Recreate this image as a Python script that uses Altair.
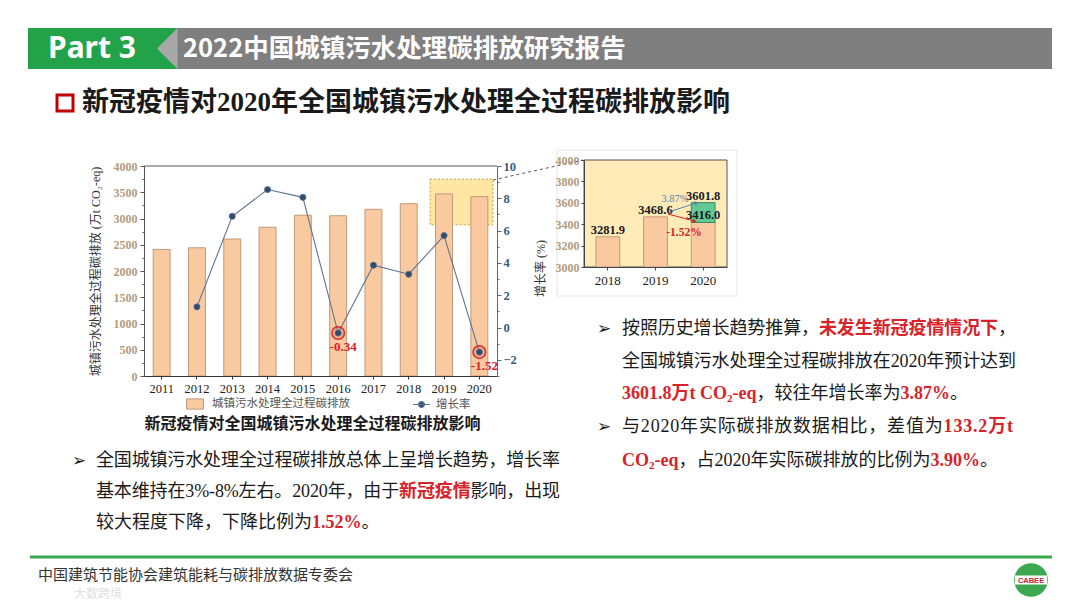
import math
import altair as alt
import pandas as pd

# ------------------------------------------------------------------ data
years = ["2011", "2012", "2013", "2014", "2015", "2016", "2017", "2018", "2019", "2020"]
emissions = [2411, 2442, 2610, 2833, 3063, 3053, 3175, 3281.9, 3468.6, 3416.0]
growth = [None, 1.28, 6.89, 8.54, 8.06, -0.34, 3.86, 3.30, 5.69, -1.52]
flag_years = ["2016", "2020"]
flag_labels = ["-0.34", "-1.52"]

inset_years = ["2018", "2019", "2020"]
inset_actual = [3281.9, 3468.6, 3416.0]
projected_year = "2020"
projected_value = 3601.8
projected_rate = "3.87%"
actual_rate = "-1.52%"

left_ticks = [0, 500, 1000, 1500, 2000, 2500, 3000, 3500, 4000]
left_minor = list(range(0, 4001, 250))
right_ticks = [-2, 0, 2, 4, 6, 8, 10]
right_minor = list(range(-3, 11))
inset_ticks = [3000, 3200, 3400, 3600, 3800, 4000]
zoom_band = [2880, 3750]

bar_series = "城镇污水处理全过程碳排放"
line_series = "增长率"

# ------------------------------------------------------------------ styling
W, H = 1064, 592


def P(v):
    return v - 8


SERIF = "Liberation Serif"
CJK = "Noto Sans CJK SC"
MIX = "Liberation Serif, Noto Sans CJK SC"
BLACK = "#1a1a1a"
RED = "#d9232a"
TAN = "#b39c7d"
BLUE_LBL = "#3b5b7e"
BAR_FILL = "#f9c9a0"
BAR_STROKE = "#c29a78"
LINE_C = "#5e7494"
DOT_C = "#2f4b6e"
GREEN_BAR = "#62c896"

one = pd.DataFrame({"k": [0]})


def rect(x0, x1, y0, y1, **kw):
    return alt.Chart(one).mark_rect(**kw).encode(
        x=alt.value(P(x0)), x2=alt.value(P(x1)), y=alt.value(P(y0)), y2=alt.value(P(y1)))


def rule(x0, y0, x1, y1, **kw):
    return alt.Chart(one).mark_rule(**kw).encode(
        x=alt.value(P(x0)), y=alt.value(P(y0)), x2=alt.value(P(x1)), y2=alt.value(P(y1)))


def label(s, x, y, **kw):
    return alt.Chart(one).mark_text(text=s, **kw).encode(x=alt.value(P(x)), y=alt.value(P(y)))


def glyph_at(x, y, size, **kw):
    return alt.Chart(one).mark_point(**kw).encode(
        x=alt.value(P(x)), y=alt.value(P(y)), size=alt.value(size))


# ------------------------------------------------------------------ rich text (per glyph)
NW = {".": .25, "%": .833, "-": .333, " ": .25, "t": .278, "C": .667, "O": .722, "e": .444, "q": .5}
BW = {".": .25, "%": 1.0, "-": .333, " ": .25, "t": .333, "C": .722, "O": .778, "e": .444, "q": .556}


def adv(ch, bold):
    if ord(ch) >= 0x2E80:
        return 1.0
    return (BW if bold else NW).get(ch, 0.5)


glyph_rows = []


def text_line(runs, x0, y, size, x1=None):
    gl = []
    for txt, color, bold in runs:
        for ch in txt:
            if ch == "₂":
                gl.append(dict(ch="2", size=size * 0.62, dy=size * 0.25, w=0.5 * 0.62 * size,
                               color=color, bold=bold, fam="latin"))
            else:
                fam = "cjk" if ord(ch) >= 0x2E80 else "latin"
                gl.append(dict(ch=ch, size=size, dy=0, w=adv(ch, bold) * size,
                               color=color, bold=bold, fam=fam))
    total = sum(g["w"] for g in gl)
    gap = 0 if (x1 is None or len(gl) < 2) else (x1 - x0 - total) / (len(gl) - 1)
    x = x0
    for g in gl:
        glyph_rows.append(dict(ch=g["ch"], px=P(x), py=P(y + g["dy"]), size=g["size"],
                               color=g["color"], bold=g["bold"], fam=g["fam"]))
        x += g["w"] + gap


# heading
text_line([("新冠疫情对", BLACK, True), ("2020", BLACK, True),
           ("年全国城镇污水处理全过程碳排放影响", BLACK, True)], 82, 103, 27)
# left block
text_line([("全国城镇污水处理全过程碳排放总体上呈增长趋势，增长率", BLACK, False)], 96, 461, 18, 560)
text_line([("基本维持在3%-8%左右。2020年，由于", BLACK, False), ("新冠疫情", RED, True),
           ("影响，出现", BLACK, False)], 96, 492, 18, 560)
text_line([("较大程度下降，下降比例为", BLACK, False), ("1.52%", RED, True), ("。", BLACK, False)],
          96, 523, 18)
# right block
text_line([("按照历史增长趋势推算，", BLACK, False), ("未发生新冠疫情情况下", RED, True),
           ("，", BLACK, False)], 622, 329, 18, 1016)
text_line([("全国城镇污水处理全过程碳排放在2020年预计达到", BLACK, False)], 622, 362, 18, 1016)
text_line([("3601.8万t CO₂-eq", RED, True), ("，较往年增长率为", BLACK, False),
           ("3.87%", RED, True), ("。", BLACK, False)], 622, 394, 18)
text_line([("与2020年实际碳排放数据相比，差值为", BLACK, False), ("133.2万t", RED, True)],
          622, 427, 18, 1013)
text_line([("CO₂-eq", RED, True), ("，占2020年实际碳排放的比例为", BLACK, False),
           ("3.90%", RED, True), ("。", BLACK, False)], 622, 461, 18)
for ax, ay in [(72, 461), (597, 329), (597, 427)]:
    glyph_rows.append(dict(ch="➢", px=P(ax), py=P(ay), size=17, color=BLACK, bold=False, fam="sym"))

glyphs = pd.DataFrame(glyph_rows)
glyph_layers = []
for fam, font in [("cjk", CJK), ("latin", SERIF), ("sym", "DejaVu Sans")]:
    for bold in [False, True]:
        sub = glyphs[(glyphs.fam == fam) & (glyphs.bold == bold)]
        if sub.empty:
            continue
        glyph_layers.append(
            alt.Chart(sub[["ch", "px", "py", "size", "color"]]).mark_text(
                align="left", baseline="middle", font=font,
                fontWeight="bold" if bold else "normal").encode(
                x=alt.X("px:Q", scale=None, axis=None),
                y=alt.Y("py:Q", scale=None, axis=None),
                text="ch:N",
                color=alt.Color("color:N", scale=None, legend=None),
                size=alt.Size("size:Q", scale=None, legend=None)))

# ------------------------------------------------------------------ header / footer
header = [
    rect(177, 1052, 28, 69, fill="#7f7f7f"),
    rect(28, 177, 28, 69, fill="#22a34a"),
    glyph_at(157, 48.5, 1681, shape="M1,-1L0,0L1,1Z", filled=True, fill="#a8a8a8",
             strokeWidth=0, opacity=1),
    label("Part 3", 48, 49, font="Noto Sans", fontWeight="bold", fontSize=30, color="white",
          align="left", baseline="middle"),
    label("2022中国城镇污水处理碳排放研究报告", 183, 49, font=CJK, fontWeight="bold",
          fontSize=25.5, color="white", align="left", baseline="middle"),
    rect(57, 73, 95, 111, fill="white", stroke="#c00000", strokeWidth=3),
]
footer = [
    rule(30, 557, 1052, 557, stroke="#39a94f", strokeWidth=3),
    label("中国建筑节能协会建筑能耗与碳排放数据专委会", 38, 575, font=CJK, fontSize=15,
          color="#333333", align="left", baseline="middle"),
    label("大数跨境", 74, 594, font=CJK, fontSize=12, color="#e0e0e0", align="left",
          baseline="middle"),
    glyph_at(1031, 580, 1134, shape="circle", filled=True, fill="#3da84f", strokeWidth=0,
             opacity=1),
    rect(1015, 1047, 575.5, 584.5, fill="white"),
    label("CABEE", 1031, 580.5, font="Liberation Sans", fontWeight="bold", fontSize=7.5,
          color="#c0282d", align="center", baseline="middle"),
]

# ------------------------------------------------------------------ main chart
df = pd.DataFrame({"year": years, "emission": emissions, "growth": growth})
mx = alt.Scale(domain=years, range=[P(144), P(497)], paddingInner=0.52, paddingOuter=0.26)
my = alt.Scale(domain=[0, 4000], range=[P(376), P(166)], nice=False, zero=False)
ry = alt.Scale(domain=[-3, 10], range=[P(376), P(166)], nice=False, zero=False)

ax_x = alt.Axis(orient="bottom", offset=P(376) - H, title=None, labelFont=SERIF,
                labelFontSize=12.5, labelColor="#222222", labelAngle=0, tickSize=3,
                tickColor="#333333", domainColor="#333333", labelPadding=3, grid=False,
                zindex=1)
ax_y = alt.Axis(orient="left", offset=-P(144), values=left_ticks, format="d",
                title=bar_series + " (万t CO₂-eq)", titleX=P(95) - P(144), titleY=P(271),
                titleAngle=270, titleAlign="center", titleBaseline="middle", titleFont=MIX,
                titleFontSize=12, titleFontWeight="normal", titleColor="#333333",
                labelFont=SERIF, labelFontWeight="bold", labelFontSize=12, labelColor=TAN,
                tickSize=4, tickColor="#555555", domainColor="#555555", labelPadding=3,
                grid=False, zindex=1)
ax_r = alt.Axis(orient="right", offset=P(497) - W, values=right_ticks, title=line_series + " (%)",
                titleX=P(540) - P(497), titleY=P(268), titleAngle=270, titleAlign="center",
                titleBaseline="middle", titleFont=MIX, titleFontSize=12,
                titleFontWeight="normal", titleColor="#333333", labelFont=SERIF,
                labelFontWeight="bold", labelFontSize=12.5, labelColor=BLUE_LBL, tickSize=4,
                tickColor="#4e6e8e", domainColor="#4e6e8e", labelPadding=2, grid=False,
                zindex=1)

box = alt.Chart(pd.DataFrame({"lo": [zoom_band[0]], "hi": [zoom_band[1]]})).mark_rect(
    fill="#ffe6a3", stroke="#d2a23e", strokeWidth=1, strokeDash=[2, 2]).encode(
    x=alt.value(P(430)), x2=alt.value(P(493)),
    y=alt.Y("hi:Q", scale=my, axis=None), y2="lo:Q")

bars = alt.Chart(df).transform_calculate(series="'" + bar_series + "'").mark_bar(
    stroke=BAR_STROKE, strokeWidth=1).encode(
    x=alt.X("year:O", scale=mx, axis=ax_x),
    y=alt.Y("emission:Q", scale=my, axis=ax_y),
    fill=alt.Fill("series:N", scale=alt.Scale(domain=[bar_series], range=[BAR_FILL]),
                  legend=alt.Legend(orient="none", legendX=P(186), legendY=P(395), title=None,
                                    symbolType="M-1,-0.6H1V0.6H-1Z", symbolSize=289,
                                    symbolStrokeWidth=1, labelFont=CJK, labelFontSize=11.5,
                                    labelColor="#555555", labelOffset=8, padding=0)))

minor_l = alt.Chart(pd.DataFrame({"v": left_minor})).mark_point(opacity=0).encode(
    y=alt.Y("v:Q", scale=my, axis=alt.Axis(orient="left", offset=-P(144), values=left_minor,
                                            labels=False, domain=False, tickSize=2,
                                            tickColor="#555555", title=None, grid=False,
                                            zindex=1)))
minor_r = alt.Chart(pd.DataFrame({"v": right_minor})).mark_point(opacity=0).encode(
    y=alt.Y("v:Q", scale=ry, axis=alt.Axis(orient="right", offset=P(497) - W, values=right_minor,
                                            labels=False, domain=False, tickSize=2,
                                            tickColor="#4e6e8e", title=None, grid=False,
                                            zindex=1)))

top_frame = rule(144, 166, 497, 166, stroke="#555555", strokeWidth=1)
connector = rule(493, 180, 583, 160, stroke="#555555", strokeWidth=1, strokeDash=[3, 3])

gdf = df.dropna(subset=["growth"])
line = alt.Chart(gdf).mark_line(color=LINE_C, strokeWidth=1.1).encode(
    x=alt.X("year:O", scale=mx, axis=None),
    y=alt.Y("growth:Q", scale=ry, axis=ax_r))

flag_df = gdf[gdf.year.isin(flag_years)].copy()
flag_df["lab"] = flag_labels
rings = alt.Chart(flag_df).mark_point(shape="circle", size=160, filled=True, fill="#d46a6a",
                                      fillOpacity=0.35, stroke="#d0302f", strokeWidth=1.5,
                                      opacity=1).encode(
    x=alt.X("year:O", scale=mx, axis=None), y=alt.Y("growth:Q", scale=ry, axis=None))

dots = alt.Chart(gdf).transform_calculate(s2="'" + line_series + "'").mark_point(
    filled=True, size=38, stroke=LINE_C, strokeWidth=0.8, opacity=1).encode(
    x=alt.X("year:O", scale=mx, axis=None),
    y=alt.Y("growth:Q", scale=ry, axis=None),
    fill=alt.Fill("s2:N", scale=alt.Scale(domain=[line_series], range=[DOT_C]),
                  legend=alt.Legend(orient="none", legendX=P(412), legendY=P(395), title=None,
                                    symbolType="M-1,0H1M0.35,0A0.35,0.35,0,1,1,-0.35,0A0.35,0.35,0,1,1,0.35,0Z",
                                    symbolSize=289, symbolStrokeWidth=1.2,
                                    symbolStrokeColor=LINE_C, labelFont=CJK,
                                    labelFontSize=11.5, labelColor="#555555", labelOffset=5,
                                    padding=0)))

flag_text = alt.Chart(flag_df).mark_text(font=SERIF, fontWeight="bold", fontSize=13, color=RED,
                                         dx=5, dy=14, baseline="middle").encode(
    x=alt.X("year:O", scale=mx, axis=None), y=alt.Y("growth:Q", scale=ry, axis=None),
    text="lab:N")

caption = label("新冠疫情对全国城镇污水处理全过程碳排放影响", 312.5, 424, font=CJK,
                fontWeight="bold", fontSize=16, color=BLACK, align="center",
                baseline="middle")

# ------------------------------------------------------------------ inset
ix = alt.Scale(domain=inset_years, range=[P(584), P(727)], paddingInner=0.5, paddingOuter=0.25)
iy = alt.Scale(domain=[3000, 4000], range=[P(267), P(160)], nice=False, zero=False)
inset_df = pd.DataFrame({"year": inset_years, "value": inset_actual})
proj_df = pd.DataFrame({"year": [projected_year], "proj": [projected_value],
                        "act": [inset_actual[-1]]})
lbl_df = pd.DataFrame({"year": inset_years + [projected_year],
                       "value": inset_actual + [projected_value]})

ax_ix = alt.Axis(orient="bottom", offset=P(267) - H, title=None, labelFont=SERIF,
                 labelFontSize=13, labelColor="#222222", labelAngle=0, tickSize=3,
                 tickColor="#444444", domainColor="#444444", labelPadding=4, grid=False,
                 zindex=1)
ax_iy = alt.Axis(orient="left", offset=-P(584), values=inset_ticks, format="d", title=None,
                 labelFont=SERIF, labelFontWeight="bold", labelFontSize=12, labelColor=TAN,
                 tickSize=3, tickColor="#444444", domainColor="#444444", labelPadding=2,
                 grid=False, zindex=1)

inset_frame = rect(557, 737, 150, 296, fillOpacity=0, stroke="#e4e4e4", strokeWidth=1)
inset_bg = rect(584, 727, 160, 267, fill="#ffebb8", stroke="#555555", strokeWidth=1)
ibars = alt.Chart(inset_df).mark_bar(fill=BAR_FILL, stroke=BAR_STROKE, strokeWidth=1).encode(
    x=alt.X("year:O", scale=ix, axis=ax_ix),
    y=alt.Y("value:Q", scale=iy, axis=ax_iy),
    y2=alt.datum(3000))
igreen = alt.Chart(proj_df).mark_bar(fill=GREEN_BAR, stroke="#3d8a5f", strokeWidth=1).encode(
    x=alt.X("year:O", scale=ix, axis=None),
    y=alt.Y("proj:Q", scale=iy, axis=None), y2="act:Q")
ilabels = alt.Chart(lbl_df).mark_text(font=SERIF, fontWeight="bold", fontSize=12.5, color=BLACK,
                                      dy=-7, baseline="middle").encode(
    x=alt.X("year:O", scale=ix, axis=None), y=alt.Y("value:Q", scale=iy, axis=None),
    text=alt.Text("value:Q", format=".1f"))


def arrow(x0, y0, x1, y1, color):
    ang = math.degrees(math.atan2(x1 - x0, -(y1 - y0))) % 360
    return [rule(x0, y0, x1, y1, stroke=color, strokeWidth=1),
            glyph_at(x1, y1, 22, shape="triangle", filled=True, fill=color, strokeWidth=0,
                     opacity=1, angle=ang)]


arrows = arrow(669, 212, 696, 203, "#5b82ae") + arrow(668, 214, 694, 221, RED)
rate_texts = [
    label(projected_rate, 675, 199, font=SERIF, fontSize=10.5, color="#5b82ae", align="center",
          baseline="middle"),
    label(actual_rate, 684, 233, font=SERIF, fontWeight="bold", fontSize=11.5, color=RED,
          align="center", baseline="middle"),
]

# ------------------------------------------------------------------ assemble
layers = (header + footer + glyph_layers +
          [inset_frame, box, bars, minor_l, minor_r, top_frame, connector, line, rings, dots,
           flag_text, caption, inset_bg, ibars, igreen, ilabels] + arrows + rate_texts)

chart = alt.layer(*layers).resolve_scale(
    x="independent", y="independent", fill="independent", color="independent",
    size="independent").properties(
    width=W, height=H, padding=0, autosize=alt.AutoSizeParams(type="none"),
    background="white").configure_view(stroke=None)

chart.save("out.html", embed_options={"renderer": "svg", "actions": False})
